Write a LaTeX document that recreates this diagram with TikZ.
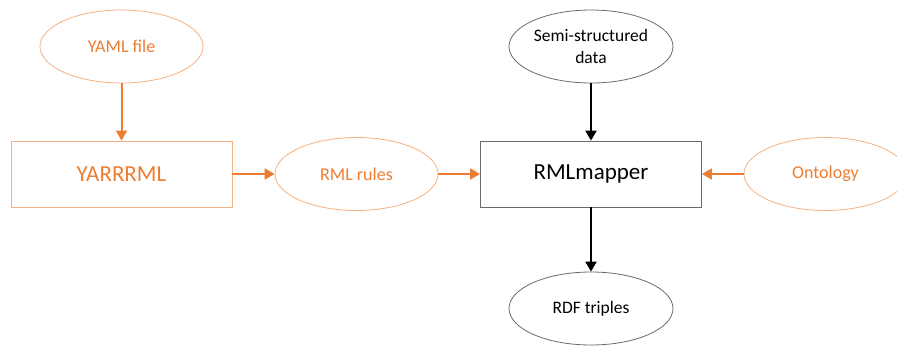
\documentclass[tikz,border=0pt]{standalone}
\usepackage{fontspec}
\setmainfont{Carlito}
\usetikzlibrary{shapes.geometric,arrows.meta}
\definecolor{orng}{HTML}{ED7D31}
\definecolor{lorng}{HTML}{F4B183}
\definecolor{gborder}{HTML}{6A6A6A}
\begin{document}
\begin{tikzpicture}[x=1pt,y=-1pt,
  oell/.style={ellipse,draw=lorng,line width=0.8pt,minimum width=163pt,minimum height=73pt,inner sep=0pt,text=orng,font=\fontsize{18}{22}\selectfont,align=center},
  bell/.style={ellipse,draw=gborder,line width=0.8pt,minimum width=164pt,minimum height=73pt,inner sep=0pt,text=black,font=\fontsize{17.5}{22}\selectfont,align=center},
  obox/.style={rectangle,draw=lorng,line width=0.8pt,minimum width=221pt,minimum height=66pt,inner sep=0pt,text=orng,font=\fontsize{23}{27}\selectfont},
  bbox/.style={rectangle,draw=gborder,line width=0.8pt,minimum width=221pt,minimum height=66pt,inner sep=0pt,text=black,font=\fontsize{23}{27}\selectfont},
  oarr/.style={draw=orng,line width=2pt,-{Triangle[length=10pt,width=11pt]}},
  barr/.style={draw=black,line width=2pt,-{Triangle[length=10pt,width=11pt]}}
]
\useasboundingbox (0,0) rectangle (897,346);
\begin{scope}
\clip (0,0) rectangle (897,346);
\node[oell] (yaml) at (121.5,46.5) {YAML file};
\node[obox] (yarrrml) at (121.5,174) {YARRRML};
\node[oell] (rml) at (356.5,174) {RML rules};
\node[bbox] (mapper) at (591,174) {RMLmapper};
\node[bell] (semi) at (591,46.5) {Semi-structured\\data};
\node[oell] (onto) at (825.5,174) {Ontology};
\node[bell] (rdf) at (591,308.5) {RDF triples};
\end{scope}
\draw[oarr] (yaml) -- (yarrrml);
\draw[oarr] (yarrrml) -- (rml);
\draw[oarr] (rml) -- (mapper);
\draw[oarr] (onto) -- (mapper);
\draw[barr] (semi) -- (mapper);
\draw[barr] (mapper) -- (rdf);
\end{tikzpicture}
\end{document}
